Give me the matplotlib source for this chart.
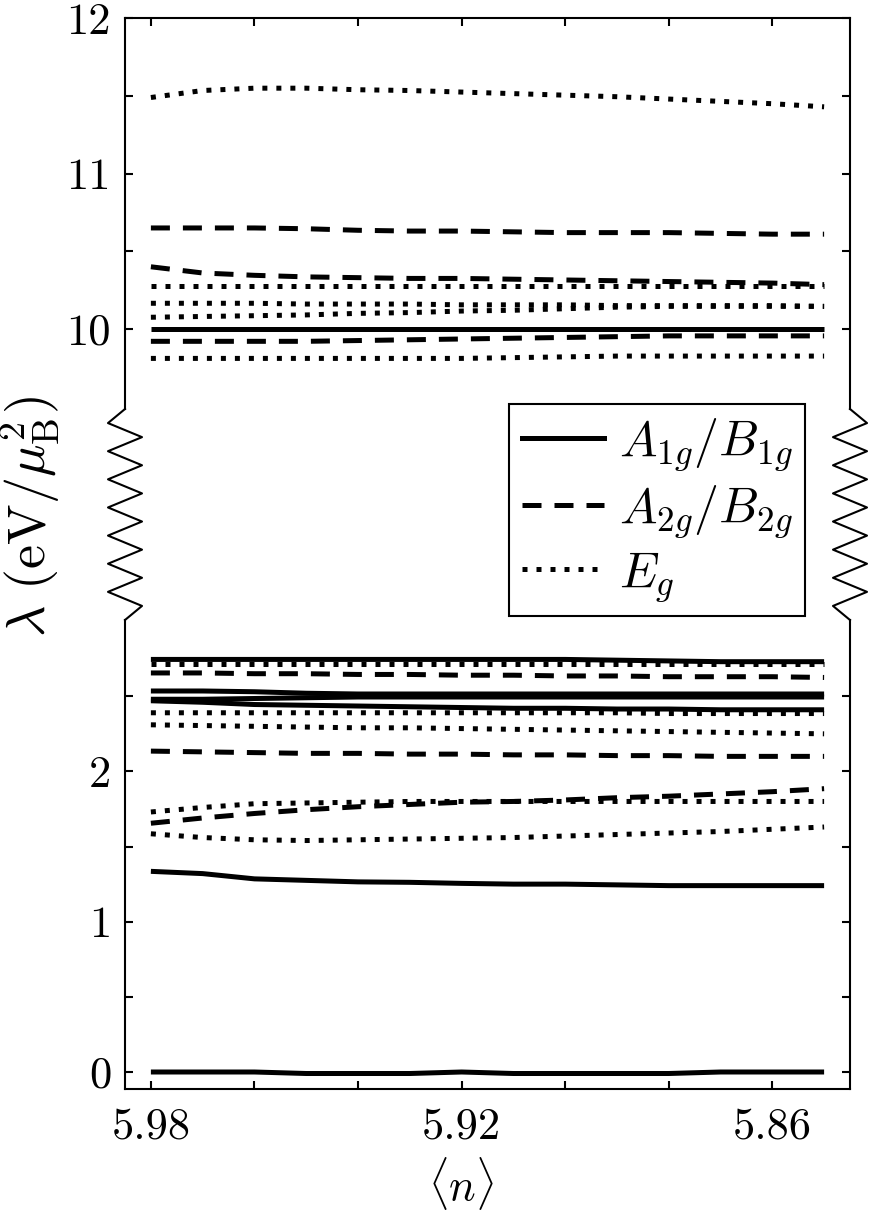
import numpy as np
import matplotlib
matplotlib.use('Agg')
import matplotlib.pyplot as plt
from matplotlib.lines import Line2D

plt.rcParams['font.family'] = 'serif'
plt.rcParams['font.serif'] = ['cmr10', 'DejaVu Serif']
plt.rcParams['mathtext.fontset'] = 'cm'
plt.rcParams['axes.formatter.use_mathtext'] = True

# filling <n>
n = [5.98, 5.97, 5.96, 5.95, 5.94, 5.93, 5.92, 5.91, 5.90, 5.89, 5.88, 5.87, 5.86, 5.85]

# A1g/B1g eigenvalues (solid)
a1g = [
    [10.0] * 14,
    [2.745, 2.745, 2.745, 2.745, 2.745, 2.745, 2.745, 2.745, 2.745, 2.74, 2.735, 2.73, 2.73, 2.73],
    [2.535, 2.535, 2.53, 2.52, 2.515, 2.515, 2.515, 2.515, 2.515, 2.515, 2.515, 2.515, 2.515, 2.515],
    [2.48, 2.48, 2.485, 2.49, 2.495, 2.495, 2.495, 2.495, 2.495, 2.495, 2.495, 2.495, 2.495, 2.495],
    [2.47, 2.46, 2.445, 2.44, 2.435, 2.43, 2.425, 2.42, 2.42, 2.415, 2.415, 2.41, 2.41, 2.41],
    [1.335, 1.32, 1.285, 1.275, 1.265, 1.262, 1.255, 1.25, 1.25, 1.245, 1.24, 1.24, 1.24, 1.24],
    [0.0, 0.0, 0.0, -0.01, -0.01, -0.01, 0.0, -0.01, -0.01, -0.01, -0.01, 0.0, 0.0, 0.0],
]

# A2g/B2g eigenvalues (dashed)
a2g = [
    [10.65, 10.65, 10.65, 10.645, 10.635, 10.63, 10.63, 10.625, 10.62, 10.62, 10.62, 10.615, 10.61, 10.61],
    [10.40, 10.36, 10.345, 10.335, 10.33, 10.325, 10.325, 10.32, 10.315, 10.31, 10.305, 10.30, 10.295, 10.285],
    [9.92, 9.92, 9.92, 9.92, 9.925, 9.93, 9.935, 9.94, 9.945, 9.95, 9.955, 9.955, 9.955, 9.955],
    [2.655, 2.655, 2.65, 2.65, 2.645, 2.645, 2.64, 2.64, 2.635, 2.635, 2.63, 2.63, 2.63, 2.625],
    [2.135, 2.13, 2.125, 2.12, 2.12, 2.115, 2.115, 2.11, 2.11, 2.105, 2.105, 2.10, 2.10, 2.10],
    [1.655, 1.69, 1.72, 1.745, 1.765, 1.78, 1.795, 1.80, 1.81, 1.825, 1.835, 1.85, 1.865, 1.885],
]

# Eg eigenvalues (dotted)
eg = [
    [11.49, 11.535, 11.55, 11.55, 11.54, 11.535, 11.525, 11.515, 11.505, 11.495, 11.48, 11.465, 11.45, 11.43],
    [10.275] * 14,
    [10.165, 10.165, 10.165, 10.16, 10.16, 10.16, 10.155, 10.155, 10.155, 10.15, 10.15, 10.15, 10.15, 10.145],
    [10.075, 10.08, 10.085, 10.09, 10.10, 10.105, 10.115, 10.12, 10.13, 10.14, 10.145, 10.145, 10.145, 10.145],
    [9.81, 9.81, 9.81, 9.81, 9.81, 9.81, 9.81, 9.815, 9.82, 9.825, 9.825, 9.825, 9.825, 9.825],
    [2.715] * 14,
    [2.39, 2.39, 2.39, 2.39, 2.39, 2.39, 2.39, 2.39, 2.39, 2.39, 2.385, 2.385, 2.385, 2.385],
    [2.31, 2.305, 2.30, 2.295, 2.29, 2.29, 2.285, 2.28, 2.275, 2.27, 2.265, 2.26, 2.255, 2.25],
    [1.73, 1.76, 1.785, 1.79, 1.795, 1.80, 1.80, 1.80, 1.80, 1.80, 1.80, 1.80, 1.80, 1.80],
    [1.585, 1.56, 1.545, 1.54, 1.545, 1.55, 1.555, 1.56, 1.57, 1.58, 1.59, 1.60, 1.615, 1.63],
]

labels = [r'$A_{1g}/B_{1g}$', r'$A_{2g}/B_{2g}$', r'$E_g$']
xticks = [5.98, 5.96, 5.94, 5.92, 5.90, 5.88, 5.86]
xticklabels = ['5.98', '', '', '5.92', '', '', '5.86']
yticks_low = [0, 0.5, 1, 1.5, 2, 2.5]
yticks_high = [10, 10.5, 11, 11.5, 12]

W, H = 872, 1215
LW = 3.6
styles = [dict(ls='-'), dict(ls=(0, (3.8, 2.6))), dict(ls=(0, (1.0, 1.8)))]

fig = plt.figure(figsize=(W / 100, H / 100), dpi=100)

# pixel layout of the two panels
xl, xr = 125, 850
top_hi, bot_hi = 18.3, 409
top_lo, bot_lo = 620, 1089

ax_hi = fig.add_axes([xl / W, 1 - bot_hi / H, (xr - xl) / W, (bot_hi - top_hi) / H])
ax_lo = fig.add_axes([xl / W, 1 - bot_lo / H, (xr - xl) / W, (bot_lo - top_lo) / H])

for ax in (ax_hi, ax_lo):
    for group, st in zip((a1g, a2g, eg), styles):
        for y in group:
            ax.plot(n, y, color='k', lw=LW, solid_capstyle='butt', dash_capstyle='butt', **st)
    ax.set_xlim(5.985, 5.845)
    ax.set_xticks(xticks)
    for s in ax.spines.values():
        s.set_linewidth(1.5)
    ax.tick_params(direction='in', length=6, width=1.5, labelsize=32,
                   left=True, right=True, pad=10)

ax_hi.set_ylim(12 - (bot_hi - top_hi) / 155.3, 12)
ax_hi.set_yticks(yticks_high)
ax_hi.set_yticklabels(['10', '', '11', '', '12'])
ax_hi.spines['bottom'].set_visible(False)
ax_hi.tick_params(axis='x', bottom=False, top=True, labelbottom=False)

ax_lo.set_ylim((1072 - bot_lo) / 150.3, (1072 - top_lo) / 150.3)
ax_lo.set_yticks(yticks_low)
ax_lo.set_yticklabels(['0', '', '1', '', '2', ''])
ax_lo.spines['top'].set_visible(False)
ax_lo.set_xticklabels(xticklabels)
ax_lo.tick_params(axis='x', top=False, bottom=True, pad=13)

# zigzag break marks on both sides
zy = np.linspace(bot_hi, top_lo, 16)
amp = 17
off = np.array([0] + [(-amp if i % 2 == 0 else amp) for i in range(14)] + [0])
for x0, sgn in ((xl, 1), (xr, -1)):
    fig.add_artist(Line2D((x0 + sgn * off) / W, 1 - zy / H, color='k', lw=1.5,
                          transform=fig.transFigure))

handles = [Line2D([], [], color='k', lw=LW, **st) for st in styles]
leg = fig.legend(handles, labels, loc='upper left', bbox_to_anchor=(509 / W, 1 - 404 / H),
                 bbox_transform=fig.transFigure, fontsize=36, frameon=True, fancybox=False,
                 edgecolor='k', framealpha=1, handlelength=1.65, handletextpad=0.3,
                 borderpad=0.25, labelspacing=0.2, borderaxespad=0)
leg.get_frame().set_linewidth(1.5)

fig.text(30 / W, 1 - 517 / H, r'$\lambda\ (\mathrm{eV}/\mu_\mathrm{B}^2)$', rotation=90,
         ha='center', va='center', fontsize=39)
fig.text(461 / W, 1 - 1183 / H, r'$\langle n \rangle$', ha='center', va='center', fontsize=32)

fig.savefig('out.png', dpi=100)
